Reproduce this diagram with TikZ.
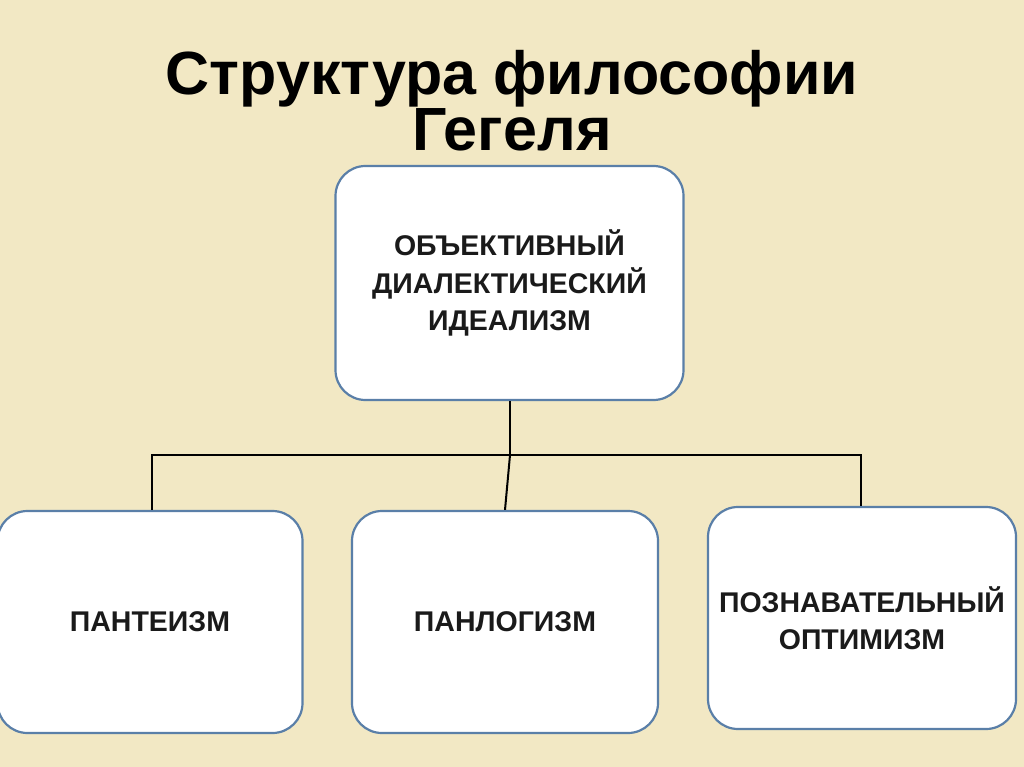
\documentclass[tikz,border=0pt]{standalone}
\usepackage{fontspec}
\setmainfont{Liberation Sans}
\definecolor{bg}{HTML}{F2E8C4}
\definecolor{bord}{HTML}{5A7FA8}
\definecolor{txt}{HTML}{1A1A1A}
\begin{document}
\begin{tikzpicture}[x=1pt,y=-1pt,
  bx/.style={draw=bord,line width=2.2pt,fill=white,rounded corners=30pt,inner sep=0pt,
    font=\fontsize{28.5}{37.5}\selectfont\bfseries,text=txt,align=center},
  ln/.style={line width=2pt,black}]
\fill[bg] (0,0) rectangle (1024,767);
\useasboundingbox (0,0) rectangle (1024,767);
\node[font=\fontsize{61}{56}\selectfont\bfseries,align=center,text=black] (title) at (512,101) {Структура философии\\Гегеля};
\node[bx,minimum width=348pt,minimum height=234pt] (top) at (509.5,283) {ОБЪЕКТИВНЫЙ\\ДИАЛЕКТИЧЕСКИЙ\\ИДЕАЛИЗМ};
\node[bx,minimum width=305pt,minimum height=222pt] (a) at (150,622) {ПАНТЕИЗМ};
\node[bx,minimum width=306pt,minimum height=222pt] (b) at (505,622) {ПАНЛОГИЗМ};
\node[bx,minimum width=308pt,minimum height=222pt] (c) at (862,618) {ПОЗНАВАТЕЛЬНЫЙ\\ОПТИМИЗМ};
\coordinate (j) at (510,455);
\draw[ln] (top.south -| j) -- (j);
\draw[ln] (a.north -| 152,0) -- (152,455) -- (861,455) -- (c.north -| 861,0);
\draw[ln] (j) -- (b.north);
\end{tikzpicture}
\end{document}
